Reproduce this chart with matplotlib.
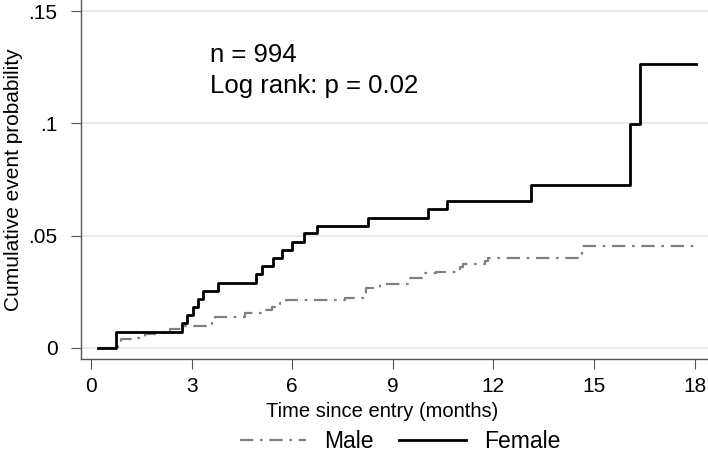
import matplotlib
matplotlib.use("Agg")
import matplotlib.pyplot as plt

plt.rcParams['font.family'] = ['Liberation Sans', 'DejaVu Sans']

# Data
female_t = [0.2, 0.75, 2.72, 2.85, 3.05, 3.2, 3.33, 3.8, 4.93, 5.1, 5.42, 5.69,
            5.99, 6.36, 6.74, 8.26, 10.05, 10.62, 13.13, 16.07, 16.37, 18.05]
female_p = [0, 0.0073, 0.011, 0.0147, 0.0181, 0.0217, 0.0254, 0.029, 0.0328, 0.0365,
            0.0399, 0.0436, 0.0473, 0.051, 0.0544, 0.058, 0.0617, 0.0656, 0.0728,
            0.0997, 0.1267, 0.1267]
male_t = [0.2, 0.8, 0.9, 1.3, 1.6, 2.0, 2.34, 2.7, 3.6, 3.7, 4.6, 5.1, 5.4, 5.5,
          5.64, 5.8, 7.58, 8.2, 8.63, 9.47, 9.87, 10.3, 11.0, 11.1, 11.76, 11.85,
          14.65, 18.05]
male_p = [0, 0.002, 0.0039, 0.0046, 0.0061, 0.0068, 0.0085, 0.0099, 0.0128, 0.0139,
          0.0154, 0.0169, 0.0184, 0.019, 0.0199, 0.0212, 0.0224, 0.0266, 0.0283,
          0.031, 0.0332, 0.034, 0.0362, 0.0372, 0.0389, 0.0402, 0.0454, 0.0454]
xticks = [0, 3, 6, 9, 12, 15, 18]
yticks = [0, 0.05, 0.1, 0.15]
yticklabels = ['0', '.05', '.1', '.15']

fig = plt.figure(figsize=(7.08, 4.53), dpi=100)
ax = fig.add_axes([81/708, 94/453, 627/708, 359/453])

ax.step(male_t, male_p, where='post', color='#808080', lw=1.6,
        linestyle=(0, (6, 3, 1.2, 3)), label='Male')
ax.step(female_t, female_p, where='post', color='black', lw=2.0, label='Female')

ax.set_xlim(-0.3, 18.4)
ax.set_ylim(-0.0049, 0.1550)
ax.set_xticks(xticks)
ax.set_yticks(yticks)
ax.set_yticklabels(yticklabels)
ax.tick_params(axis='both', labelsize=15, length=7, color='#555555', pad=6)
ax.tick_params(axis='y', pad=10)
ax.yaxis.grid(True, color='#e6e6e6', lw=1.2)
ax.set_axisbelow(True)
for s in ['top', 'right']:
    ax.spines[s].set_visible(False)
for s in ['left', 'bottom']:
    ax.spines[s].set_color('#555555')
    ax.spines[s].set_linewidth(1.0)

ax.set_ylabel('Cumulative event probability', fontsize=15, labelpad=4)
ax.set_xlabel('Time since entry (months)', fontsize=14.5, labelpad=2)
ax.xaxis.set_label_coords(0.481, -0.12)

ax.text(3.55, 0.1273, 'n = 994', fontsize=18.5, va='baseline', ha='left')
ax.text(3.55, 0.1135, 'Log rank: p = 0.02', fontsize=18.5, va='baseline', ha='left')

fig.legend(loc='center', bbox_to_anchor=(0.565, 0.026), ncol=2, frameon=False,
           fontsize=16.5, handlelength=2.9, handletextpad=0.8, columnspacing=1.1,
           borderpad=0.2)

fig.savefig('out.png', dpi=100)
